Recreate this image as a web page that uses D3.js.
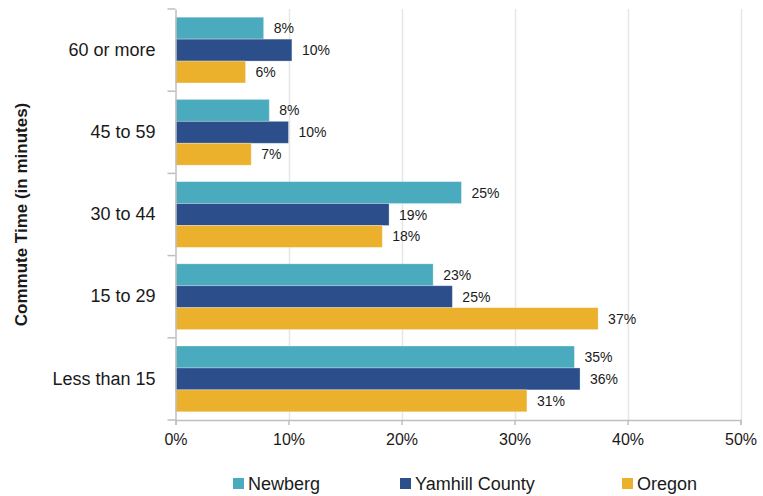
<!DOCTYPE html>
<html>
<head>
<meta charset="utf-8">
<script src="https://cdn.jsdelivr.net/npm/d3@7"></script>
<style>
  html, body { margin: 0; padding: 0; background: #fff; }
  svg { display: block; font-family: "Liberation Sans", Arial, sans-serif; }
</style>
</head>
<body>
<svg id="chart" width="763" height="496"></svg>
<script>
const categories = ["60 or more", "45 to 59", "30 to 44", "15 to 29", "Less than 15"];
const seriesNames = ["Newberg", "Yamhill County", "Oregon"];
const newberg = [7.8, 8.3, 25.3, 22.8, 35.3];
const yamhill = [10.3, 10.0, 18.9, 24.5, 35.8];
const oregon = [6.2, 6.7, 18.3, 37.4, 31.1];
const labelsNewberg = ["8%", "8%", "25%", "23%", "35%"];
const labelsYamhill = ["10%", "10%", "19%", "25%", "36%"];
const labelsOregon = ["6%", "7%", "18%", "37%", "31%"];
const xTicks = [0, 10, 20, 30, 40, 50];
const colors = ["#4BABBE", "#2C4F8B", "#EBB12C"];

(function () {
const seriesValues = [newberg, yamhill, oregon];
const seriesLabels = [labelsNewberg, labelsYamhill, labelsOregon];

const svg = d3.select("#chart");
const mLeft = 175.5, mRight = 740.5, mTop = 9, mBottom = 420;

const x = d3.scaleLinear().domain([0, 50]).range([mLeft, mRight]);
const y = d3.scaleBand().domain(categories).range([mTop, mBottom]).paddingInner(0.2).paddingOuter(0.1);
const y1 = d3.scaleBand().domain(seriesNames).range([0, y.bandwidth()]);

// gridlines
svg.append("g").selectAll("line").data(xTicks.slice(1)).join("line")
  .attr("x1", d => Math.round(x(d)) + 0.5).attr("x2", d => Math.round(x(d)) + 0.5)
  .attr("y1", mTop).attr("y2", mBottom)
  .attr("stroke", "#e6e6e6").attr("stroke-width", 1.5);

// bars
const rows = [];
categories.forEach((c, i) => {
  seriesNames.forEach((s, j) => {
    rows.push({cat: c, series: s, value: seriesValues[j][i], label: seriesLabels[j][i], color: colors[j]});
  });
});

svg.append("g").selectAll("rect").data(rows).join("rect")
  .attr("x", x(0))
  .attr("y", d => y(d.cat) + y1(d.series))
  .attr("width", d => x(d.value) - x(0))
  .attr("height", y1.bandwidth())
  .attr("fill", d => d.color)
  .attr("stroke", "#ffffff").attr("stroke-opacity", 0.35).attr("stroke-width", 0.8);

// value labels
svg.append("g").selectAll("text").data(rows).join("text")
  .attr("x", d => x(d.value) + 10)
  .attr("y", d => y(d.cat) + y1(d.series) + y1.bandwidth() / 2)
  .attr("dy", "0.36em")
  .attr("font-size", 14)
  .attr("fill", "#1a1a1a")
  .text(d => d.label);

// x axis
const xAxis = d3.axisBottom(x).tickValues(xTicks).tickFormat(d => d + "%").tickSize(5).tickPadding(9);
const gx = svg.append("g").attr("transform", `translate(0,${mBottom})`).call(xAxis);
gx.select(".domain").attr("stroke", "#bfbfbf").attr("stroke-width", 1.5);
gx.selectAll(".tick line").attr("stroke", "#bfbfbf").attr("stroke-width", 1.5);
gx.selectAll(".tick text").attr("font-size", 16).attr("fill", "#1a1a1a")
  .attr("font-family", "'Liberation Sans', Arial, sans-serif");

// y axis
const yAxis = d3.axisLeft(y).tickSize(0).tickPadding(20);
const gy = svg.append("g").attr("transform", `translate(${mLeft},0)`).call(yAxis);
gy.select(".domain").attr("stroke", "#bfbfbf").attr("stroke-width", 1.5);
gy.selectAll(".tick text").attr("font-size", 18).attr("fill", "#1a1a1a")
  .attr("font-family", "'Liberation Sans', Arial, sans-serif");

// category boundary ticks
const bounds = categories.map(c => y(c) - y.step() * y.paddingInner() / 2);
bounds.push(mBottom);
bounds[0] = mTop;
svg.append("g").selectAll("line").data(bounds).join("line")
  .attr("x1", mLeft - 8).attr("x2", mLeft)
  .attr("y1", d => d).attr("y2", d => d)
  .attr("stroke", "#bfbfbf").attr("stroke-width", 1.5);

// y title
svg.append("text")
  .attr("transform", `translate(27,${(mTop + mBottom) / 2}) rotate(-90)`)
  .attr("text-anchor", "middle")
  .attr("font-size", 17).attr("font-weight", "bold").attr("fill", "#1a1a1a")
  .text("Commute Time (in minutes)");

// legend
const legendX = [233, 400, 622];
const lg = svg.append("g").selectAll("g").data(seriesNames).join("g")
  .attr("transform", (d, i) => `translate(${legendX[i]},484)`);
lg.append("rect").attr("x", 0).attr("y", -6).attr("width", 11).attr("height", 11)
  .attr("fill", (d, i) => colors[i]);
lg.append("text").attr("x", 15).attr("y", 0).attr("dy", "0.36em")
  .attr("font-size", 18).attr("fill", "#1a1a1a").text(d => d);
})();
</script>
</body>
</html>
